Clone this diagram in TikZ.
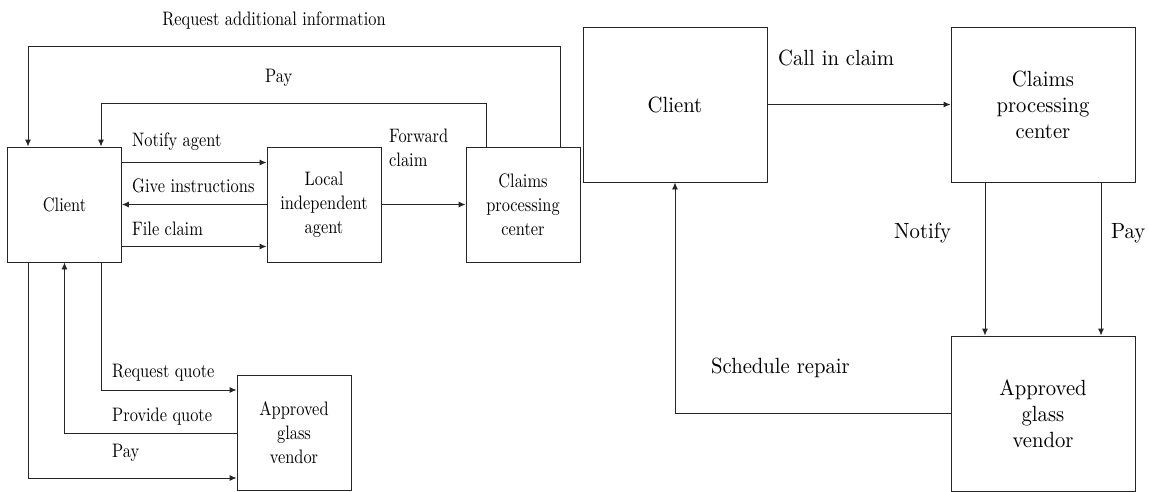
\documentclass[tikz,border=0pt]{standalone}
\usepackage{fontspec}
\newfontfamily\lfont[FakeStretch=0.84]{lmroman10-regular.otf}
\newfontfamily\rfont[FakeStretch=0.94]{lmroman10-regular.otf}
\usetikzlibrary{arrows.meta}
\begin{document}
\begin{tikzpicture}[x=1pt,y=-1pt,
  lf/.style={font=\lfont\fontsize{19.5}{24}\selectfont},
  rf/.style={font=\rfont\fontsize{22}{26}\selectfont},
  lbox/.style={draw=black!85, line width=0.9pt, inner sep=0pt, align=center,
    minimum width=114pt, minimum height=115pt, lf},
  rbox/.style={draw=black!85, line width=0.9pt, inner sep=0pt, align=center,
    minimum width=184pt, minimum height=155pt, rf},
  conn/.style={draw=black!85, line width=0.9pt},
  arr/.style={conn, -{Latex[length=7pt,width=6pt]}},
  lab/.style={inner sep=0pt, anchor=base west, lf},
  rlab/.style={inner sep=0pt, anchor=base west, rf}]
\useasboundingbox (0,0) rectangle (1149,491);
% left diagram
\node[lbox] (cl)   at (64.5,204.5) {Client};
\node[lbox] (lia)  at (324,204.5)  {Local\\independent\\agent};
\node[lbox] (cpcL) at (523,204.5)  {Claims\\processing\\center};
\node[lbox] (agvL) at (294,433)    {Approved\\glass\\vendor};
% right diagram
\node[rbox] (clR)  at (675,104.5)  {Client};
\node[rbox] (cpcR) at (1043,104.5) {Claims\\processing\\center};
\node[rbox] (agvR) at (1043,413.5) {Approved\\glass\\vendor};
% left connectors
\draw[arr] ([xshift=37pt]cpcL.north) -- ++(0,-100) -| ([xshift=-36.5pt]cl.north);
\draw[arr] ([xshift=-37pt]cpcL.north) -- ++(0,-43) -| ([xshift=36.5pt]cl.north);
\draw[arr] ([yshift=42pt]cl.east) -- ([yshift=42pt]lia.west);
\draw[arr] (lia.west) -- (cl.east);
\draw[arr] ([yshift=-42pt]cl.east) -- ([yshift=-42pt]lia.west);
\draw[arr] (lia.east) -- (cpcL.west);
\draw[arr] ([xshift=36.5pt]cl.south) |- ([yshift=43pt]agvL.west);
\draw[arr] (agvL.west) -| (cl.south);
\draw[arr] ([xshift=-36.5pt]cl.south) |- ([yshift=-45pt]agvL.west);
% right connectors
\draw[arr] (clR.east) -- (cpcR.west);
\draw[arr] ([xshift=-58pt]cpcR.south) -- ([xshift=-58pt]agvR.north);
\draw[arr] ([xshift=58pt]cpcR.south) -- ([xshift=58pt]agvR.north);
\draw[arr] (agvR.west) -| (clR.south);
% left labels
\node[lf, inner sep=0pt, anchor=base] (tReq) at (274,25) {Request additional information};
\node[lab] (tPay1) at (265,82) {Pay};
\node[lab] (tNot) at (132,146) {Notify agent};
\node[lab] (tGive) at (132,192) {Give instructions};
\node[lab] (tFile) at (132,235) {File claim};
\node[lab, align=left, anchor=base west] (tFwd) at (389,166) {Forward\\claim};
\node[lab] (tRq) at (112,377) {Request quote};
\node[lab] (tPq) at (112,421) {Provide quote};
\node[lab] (tPay2) at (112,457) {Pay};
% right labels
\node[rlab] (tCall) at (778,65) {Call in claim};
\node[rlab] (tNotR) at (894,238) {Notify};
\node[rlab] (tPayR) at (1111,238) {Pay};
\node[rlab] (tSch) at (711,373) {Schedule repair};
\end{tikzpicture}
\end{document}
